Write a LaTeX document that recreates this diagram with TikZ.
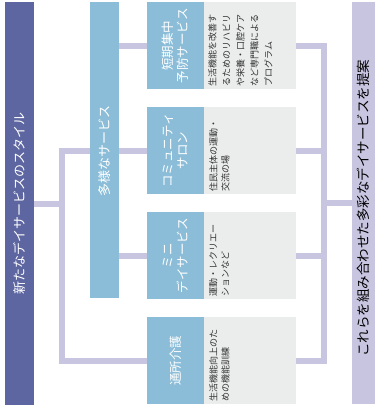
\documentclass[tikz,border=0pt]{standalone}
\usepackage{fontspec}
\setmainfont{Noto Sans CJK JP}
\usetikzlibrary{backgrounds}
\definecolor{darkbar}{HTML}{5E66A2}
\definecolor{lightblue}{HTML}{8BBDD8}
\definecolor{lav}{HTML}{C8C5E0}
\definecolor{graybox}{HTML}{EBECEC}
\definecolor{graytext}{HTML}{333333}
\begin{document}
\begin{tikzpicture}[x=1pt,y=-1pt,
  box/.style={draw=none, inner sep=0pt, outer sep=0pt, anchor=north west},
  bar/.style={box, minimum width=29pt},
  bluebox/.style={box, fill=lightblue, minimum width=57pt, minimum height=87pt},
  graybx/.style={box, fill=graybox, minimum width=92pt, minimum height=87pt},
  conn/.style={draw=lav, line width=6pt, line join=miter},
  bigtxt/.style={rotate=90, inner sep=0pt, font=\fontsize{13}{15}\selectfont},
  bluetxt/.style={rotate=90, inner sep=0pt, text=white, align=center, font=\fontsize{12.5}{15}\selectfont},
  smalltxt/.style={rotate=90, inner sep=0pt, anchor=north west, text=graytext, align=left, font=\fontsize{9}{12}\selectfont}
]
\useasboundingbox (0,0) rectangle (377,407);
% bars
\node[bar, fill=darkbar, minimum height=403pt] (L) at (5,2) {};
\node[bar, fill=lightblue, minimum height=296pt] (M) at (90,2) {};
\node[box, fill=lav, minimum width=23pt, minimum height=402pt] (R) at (352,2) {};
% boxes
\node[bluebox] (B1) at (147,2) {};
\node[graybx] (G1) at (204,2) {};
\node[bluebox] (B2) at (147,107) {};
\node[graybx] (G2) at (204,107) {};
\node[bluebox] (B3) at (147,212) {};
\node[graybx] (G3) at (204,212) {};
\node[bluebox] (B4) at (147,317) {};
\node[graybx] (G4) at (204,317) {};
% texts
\node[bigtxt, text=white] (Lt) at (L) {新たなデイサービスのスタイル};
\node[bigtxt, text=white] (Mt) at (104.5,151) {多様なサービス};
\node[bigtxt, text=black, font=\fontsize{13.5}{15}\selectfont] (Rt) at (363.5,208) {これらを組み合わせた多彩なデイサービスを提案};
\node[bluetxt] (B1t) at (B1) {短期集中\\予防サービス};
\node[bluetxt] (B2t) at (B2) {コミュニティ\\サロン};
\node[bluetxt] (B3t) at (B3) {ミニ\\デイサービス};
\node[bluetxt] (B4t) at (B4) {通所介護};
\node[smalltxt, font=\fontsize{9}{14}\selectfont] (G1t) at ([xshift=4pt,yshift=2.5pt]G1.south west) {生活機能を改善す\\るためのリハビリ\\や栄養・口腔ケア\\など専門職による\\プログラム};
\node[smalltxt] (G2t) at ([xshift=5pt,yshift=2.5pt]G2.south west) {住民主体の運動・\\交流の場};
\node[smalltxt] (G3t) at ([xshift=5pt,yshift=2.5pt]G3.south west) {運動・レクリエー\\ションなど};
\node[smalltxt] (G4t) at ([xshift=5pt,yshift=2.5pt]G4.south west) {生活機能向上のた\\めの機能訓練};
% connectors
\coordinate (lj) at (62,203.5);
\coordinate (rj) at (324,203);
\begin{scope}[on background layer]
\draw[conn] (L.east |- lj) -- (lj);
\draw[conn] (B2.west) -- (B2.west -| lj) -- (B4.west -| lj) -- (B4.west);
\draw[conn] (M.east |- B1.west) -- (B1.west);
\draw[conn] (M.east |- B3.west) -- (B3.west);
\draw[conn] (G1.east) -- (G1.east -| rj) -- (G4.east -| rj) -- (G4.east);
\draw[conn] (G2.east) -- (G2.east -| rj);
\draw[conn] (G3.east) -- (G3.east -| rj);
\draw[conn] (rj) -- (R.west |- rj);
\end{scope}
\end{tikzpicture}
\end{document}
